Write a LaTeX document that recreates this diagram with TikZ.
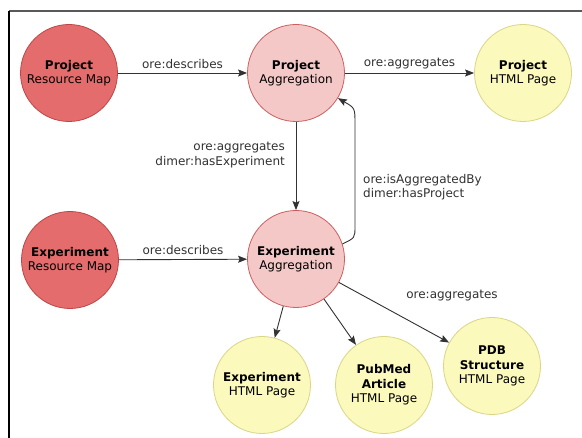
\documentclass[tikz,border=0pt]{standalone}
\usepackage{fontspec}
\setmainfont{DejaVu Sans}
\usetikzlibrary{arrows.meta}
\definecolor{darkred}{RGB}{228,108,108}
\definecolor{darkredline}{RGB}{190,70,70}
\definecolor{pinkfill}{RGB}{245,200,200}
\definecolor{pinkline}{RGB}{205,95,95}
\definecolor{yelfill}{RGB}{251,249,188}
\definecolor{yelline}{RGB}{218,214,135}
\definecolor{edgecol}{RGB}{50,50,50}
\tikzset{
  base/.style={circle, minimum size=97pt, inner sep=0pt, align=center, font=\fontsize{12}{14.5}\selectfont, line width=0.8pt},
  mapnode/.style={base, fill=darkred, draw=darkredline},
  aggnode/.style={base, fill=pinkfill, draw=pinkline},
  pagenode/.style={base, fill=yelfill, draw=yelline},
  conn/.style={draw=edgecol, line width=0.9pt, -{Stealth[length=9pt,width=7pt,inset=1.5pt]}},
  lbl/.style={font=\fontsize{12}{14.5}\selectfont, text=edgecol, inner sep=1pt},
}
\begin{document}
\begin{tikzpicture}[x=1pt,y=-1pt]
\useasboundingbox (0,0) rectangle (582,438);
\fill[white] (0,0) rectangle (582,438);
\coordinate (f0) at (9,11);
\coordinate (f1) at (582,11);
\coordinate (f2) at (9,438);
\draw[line width=1.2pt, gray!70!black] (f0) -- (f1);
\draw[line width=1.5pt, black] (f0) -- (f2);

\node[mapnode] (prm) at (69,73) {\textbf{Project}\\Resource Map};
\node[aggnode] (pa) at (296,73) {\textbf{Project}\\Aggregation};
\node[pagenode] (ph) at (523,73) {\textbf{Project}\\HTML Page};
\node[mapnode] (erm) at (70,260) {\textbf{Experiment}\\Resource Map};
\node[aggnode] (ea) at (296,259) {\textbf{Experiment}\\Aggregation};
\node[pagenode] (eh) at (262,385) {\textbf{Experiment}\\HTML Page};
\node[pagenode] (pm) at (384,385) {\textbf{PubMed}\\\textbf{Article}\\HTML Page};
\node[pagenode] (pdb) at (492,366) {\textbf{PDB}\\\textbf{Structure}\\HTML Page};

\draw[conn] (prm) -- node[lbl, above=3pt] {ore:describes} (pa);
\draw[conn] (pa) -- node[lbl, above=3pt] {ore:aggregates} (ph);
\draw[conn] (erm) -- node[lbl, above=3pt] {ore:describes} (ea);
\draw[conn] (pa) -- (ea);
\node[lbl, anchor=east, align=right] (l1) at (286,155) {ore:aggregates\\dimer:hasExperiment};
\coordinate (r1) at (355,226);
\coordinate (r2) at (355,124);
\draw[conn] (ea.18) .. controls (355,238) .. (r1) -- (r2) .. controls (355,108) .. (pa.-31);
\node[lbl, anchor=west, align=left] (l2) at (362,187) {ore:isAggregatedBy\\dimer:hasProject};
\draw[conn] (ea) -- (eh);
\draw[conn] (ea) -- (pm);
\draw[conn] (ea) -- (pdb);
\node[lbl] (l3) at (452,296) {ore:aggregates};
\end{tikzpicture}
\end{document}
